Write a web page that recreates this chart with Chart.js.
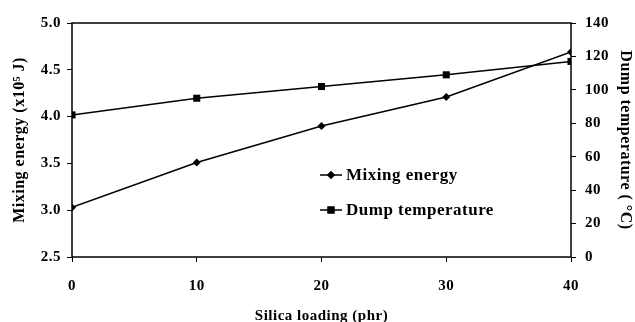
<!DOCTYPE html>
<html>
<head>
<meta charset="utf-8">
<script src="https://cdn.jsdelivr.net/npm/chart.js@4"></script>
<style>
  html, body { margin: 0; padding: 0; background: #fff; overflow: hidden; }
  #wrap { width: 635px; height: 322px; }
</style>
</head>
<body>
<div id="wrap"><canvas id="line-chart"></canvas></div>
<script>
// data
const silicaLoading = [0, 10, 20, 30, 40];
const mixingEnergy = [3.03, 3.51, 3.9, 4.21, 4.69];
const dumpTemperature = [85, 95, 102, 109, 117];
const energyTicks = [2.5, 3.0, 3.5, 4.0, 4.5, 5.0];
const tempTicks = [0, 20, 40, 60, 80, 100, 120, 140];

const FONT = '"Liberation Serif", "Times New Roman", serif';

// the scanned figure has wide type, so spread the letters a little
const spacingPlugin = {
  id: 'spacing',
  beforeDraw(chart) {
    chart.ctx.letterSpacing = '0.5px';
  },
};

// box around the plot + legend drawn inside the plot area
const framePlugin = {
  id: 'frame',
  afterDatasetsDraw(chart) {
    const { ctx, chartArea: a } = chart;
    ctx.save();
    ctx.strokeStyle = '#000';
    ctx.lineWidth = 1.5;
    ctx.strokeRect(a.left, a.top, a.right - a.left, a.bottom - a.top);

    // legend
    const items = [
      { ds: chart.data.datasets[0], y: 175 },
      { ds: chart.data.datasets[1], y: 210 },
    ];
    ctx.font = 'bold 17px ' + FONT;
    ctx.textBaseline = 'middle';
    ctx.fillStyle = '#000';
    items.forEach((it) => {
      ctx.lineWidth = 1.5;
      ctx.beginPath();
      ctx.moveTo(320, it.y);
      ctx.lineTo(342, it.y);
      ctx.stroke();
      Chart.helpers.drawPoint(ctx, {
        pointStyle: it.ds.pointStyle,
        radius: it.ds.pointRadius,
        rotation: 0,
        borderWidth: 0,
      }, 331, it.y);
      ctx.fill();
      ctx.fillText(it.ds.label, 346, it.y + 1);
    });
    ctx.restore();
  },
};

const tickFont = { family: FONT, size: 15, weight: 'bold' };

const ctx = document.getElementById('line-chart').getContext('2d');
// eslint-disable-next-line no-unused-vars
const chart = new Chart(ctx, {
  type: 'line',
  data: {
    datasets: [
      {
        label: 'Mixing energy',
        data: silicaLoading.map((x, i) => ({ x, y: mixingEnergy[i] })),
        yAxisID: 'y',
        borderColor: '#000',
        backgroundColor: '#000',
        borderWidth: 1.5,
        pointStyle: 'rectRot',
        pointRadius: 4,
        pointBorderWidth: 0,
        fill: false,
      },
      {
        label: 'Dump temperature',
        data: silicaLoading.map((x, i) => ({ x, y: dumpTemperature[i] })),
        yAxisID: 'y2',
        borderColor: '#000',
        backgroundColor: '#000',
        borderWidth: 1.5,
        pointStyle: 'rect',
        pointRadius: 5,
        pointBorderWidth: 0,
        fill: false,
      },
    ],
  },
  options: {
    responsive: true,
    maintainAspectRatio: false,
    animation: false,
    layout: { padding: { top: 23, left: 0, right: 0, bottom: 0 } },
    plugins: {
      legend: { display: false },
      tooltip: { enabled: false },
    },
    scales: {
      x: {
        type: 'linear',
        min: 0,
        max: 40,
        afterBuildTicks: (s) => { s.ticks = silicaLoading.map((v) => ({ value: v })); },
        afterFit: (s) => { s.height = 65; },
        grid: { drawOnChartArea: false, color: '#000', tickLength: 5 },
        border: { display: false },
        ticks: { color: '#000', font: tickFont, padding: 15, maxRotation: 0 },
        title: {
          display: true,
          text: 'Silica loading (phr)',
          color: '#000',
          font: { family: FONT, size: 15, weight: 'bold' },
          padding: { top: 0, bottom: -3 },
        },
      },
      y: {
        position: 'left',
        min: 2.5,
        max: 5.0,
        afterBuildTicks: (s) => { s.ticks = energyTicks.map((v) => ({ value: v })); },
        afterFit: (s) => { s.width = 72; },
        grid: { drawOnChartArea: false, color: '#000', tickLength: 5 },
        border: { display: false },
        ticks: {
          color: '#000',
          font: tickFont,
          padding: 6,
          callback: (v) => Number(v).toFixed(1),
        },
        title: {
          display: true,
          text: 'Mixing energy (x10⁵ J)',
          color: '#000',
          font: { family: FONT, size: 16, weight: 'bold' },
          padding: { top: 10, bottom: 0 },
        },
      },
      y2: {
        position: 'right',
        min: 0,
        max: 140,
        afterBuildTicks: (s) => { s.ticks = tempTicks.map((v) => ({ value: v })); },
        afterFit: (s) => { s.width = 64; },
        grid: { drawOnChartArea: false, color: '#000', tickLength: 5 },
        border: { display: false },
        ticks: { color: '#000', font: tickFont, padding: 9 },
        title: {
          display: true,
          text: 'Dump temperature ( °C)',
          color: '#000',
          font: { family: FONT, size: 16, weight: 'bold' },
          padding: { top: 0, bottom: 0 },
        },
      },
    },
  },
  plugins: [spacingPlugin, framePlugin],
});
</script>
</body>
</html>
